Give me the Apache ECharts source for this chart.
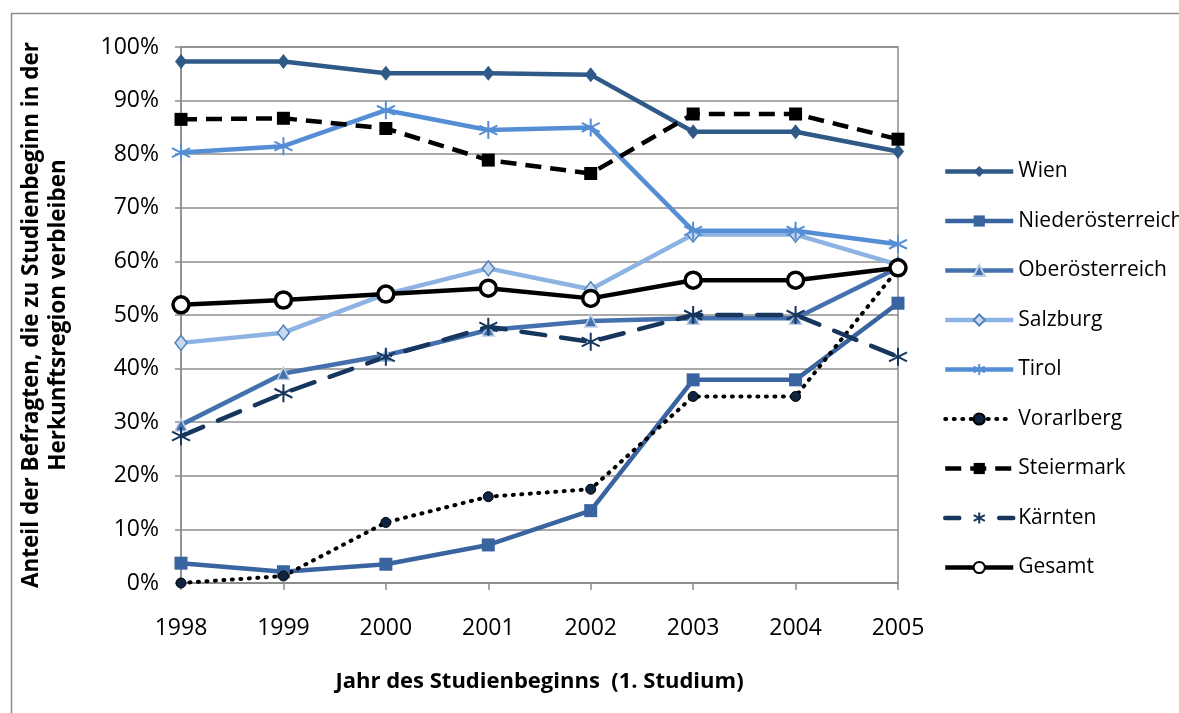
<!DOCTYPE html>
<html><head><meta charset="utf-8">
<script src="https://cdn.jsdelivr.net/npm/echarts@6/dist/echarts.min.js"></script>
<style>html,body{margin:0;padding:0;background:#fff}#c{width:1179px;height:713px}</style>
</head><body><div id="c"></div>
<script>
const years = ['1998','1999','2000','2001','2002','2003','2004','2005'];
const yTickLabels = ['0%','10%','20%','30%','40%','50%','60%','70%','80%','90%','100%'];
const wien = [97.3, 97.3, 95.1, 95.1, 94.8, 84.2, 84.2, 80.5];
const niederoesterreich = [3.7, 2.1, 3.5, 7.1, 13.5, 37.9, 37.9, 52.2];
const oberoesterreich = [29.5, 39.1, 42.5, 47.2, 48.9, 49.4, 49.4, 58.8];
const salzburg = [44.8, 46.7, 53.9, 58.7, 54.8, 65.0, 65.0, 59.4];
const tirol = [80.3, 81.5, 88.2, 84.5, 85.0, 65.7, 65.7, 63.2];
const vorarlberg = [0.0, 1.3, 11.3, 16.1, 17.5, 34.8, 34.8, 58.6];
const steiermark = [86.5, 86.7, 84.8, 78.9, 76.4, 87.5, 87.5, 82.8];
const kaernten = [27.4, 35.4, 42.2, 47.8, 45.0, 50.0, 50.0, 42.2];
const gesamt = [51.9, 52.8, 53.9, 55.0, 53.1, 56.5, 56.5, 58.8];

const FONT = '"Open Sans"';
const star = 'path://M0,-10L0,10M-8.66,-5L8.66,5M-8.66,5L8.66,-5';

function s(name, data, color, width, type, symbol, size, itemStyle, cap) {
  return {
    name, type: 'line', data,
    symbol, symbolSize: size,
    lineStyle: { color, width, type, cap: cap || 'butt' },
    itemStyle: Object.assign({ color }, itemStyle || {}),
    emphasis: { disabled: true },
    animation: false
  };
}

const chart = echarts.init(document.getElementById('c'));
chart.setOption({
  animation: false,
  graphic: [{
    type: 'rect', left: 9, top: 11, shape: { width: 1300, height: 900 },
    style: { fill: 'none', stroke: '#8c8c8c', lineWidth: 1.5 }, silent: true
  }],
  grid: { left: 181, right: 281, top: 47, bottom: 130, show: true, borderColor: '#8c8c8c', borderWidth: 1.5, backgroundColor: 'transparent' },
  legend: {
    orient: 'vertical', left: 938, top: 156,
    itemWidth: 68, itemHeight: 14, itemGap: 28.5,
    lineStyle: { width: 'inherit' },
    textStyle: { fontFamily: FONT, fontSize: 21, color: '#000', lineHeight: 20 },
    data: ['Wien','Niederösterreich','Oberösterreich','Salzburg','Tirol','Vorarlberg','Steiermark',
      { name: 'Kärnten', lineStyle: { type: [14, 40] } }, 'Gesamt']
  },
  xAxis: {
    type: 'category', data: years, boundaryGap: false,
    name: 'Jahr des Studienbeginns  (1. Studium)', nameLocation: 'middle', nameGap: 88,
    nameTextStyle: { fontFamily: FONT, fontSize: 22, fontWeight: 'bold', color: '#000' },
    axisLine: { lineStyle: { color: '#8c8c8c', width: 1.5 } },
    axisTick: { show: true, alignWithLabel: true, length: 7, lineStyle: { color: '#8c8c8c', width: 1.5 } },
    axisLabel: { fontFamily: FONT, fontSize: 23, color: '#000', margin: 34 },
    splitLine: { show: false }
  },
  yAxis: {
    type: 'value', min: 0, max: 100, interval: 10,
    name: 'Anteil der Befragten, die zu Studienbeginn in der\nHerkunftsregion verbleiben',
    nameLocation: 'middle', nameGap: 109, nameRotate: 90,
    nameTextStyle: { fontFamily: FONT, fontSize: 22.5, fontWeight: 'bold', color: '#000', lineHeight: 27, align: 'center' },
    axisLine: { show: true, lineStyle: { color: '#8c8c8c', width: 1.5 } },
    axisTick: { show: true, length: 6, lineStyle: { color: '#8c8c8c', width: 1.5 } },
    axisLabel: { fontFamily: FONT, fontSize: 23, color: '#000', margin: 22,
      formatter: v => yTickLabels[Math.round(v / 10)] },
    splitLine: { lineStyle: { color: '#8c8c8c', width: 1.5 } }
  },
  series: [
    s('Wien', wien, '#2f5987', 4.5, 'solid', 'diamond', [12, 15]),
    s('Niederösterreich', niederoesterreich, '#3a64a0', 4.5, 'solid', 'rect', 13),
    s('Oberösterreich', oberoesterreich, '#4470ad', 4.5, 'solid', 'triangle', 12, { color: '#4470ad', borderColor: '#b9cde5', borderWidth: 1.5 }),
    s('Salzburg', salzburg, '#8db3e2', 4.5, 'solid', 'diamond', [12, 15], { color: '#c6d9f1', borderColor: '#4f81bd', borderWidth: 1.5 }),
    s('Tirol', tirol, '#558ed5', 4.5, 'solid', star, 18, { color: '#558ed5', borderColor: '#558ed5', borderWidth: 2 }),
    s('Vorarlberg', vorarlberg, '#000000', 4, [1, 7.5], 'circle', 10, { color: '#0f2440', borderColor: '#000', borderWidth: 1 }, 'round'),
    s('Steiermark', steiermark, '#000000', 4.5, [16, 9], 'rect', 13),
    s('Kärnten', kaernten, '#17365d', 4.5, [24, 16], star, 18, { color: '#17365d', borderColor: '#17365d', borderWidth: 2 }, 'round'),
    s('Gesamt', gesamt, '#000000', 4.5, 'solid', 'circle', 16, { color: '#ffffff', borderColor: '#000', borderWidth: 3.5 })
  ]
});
</script></body></html>
